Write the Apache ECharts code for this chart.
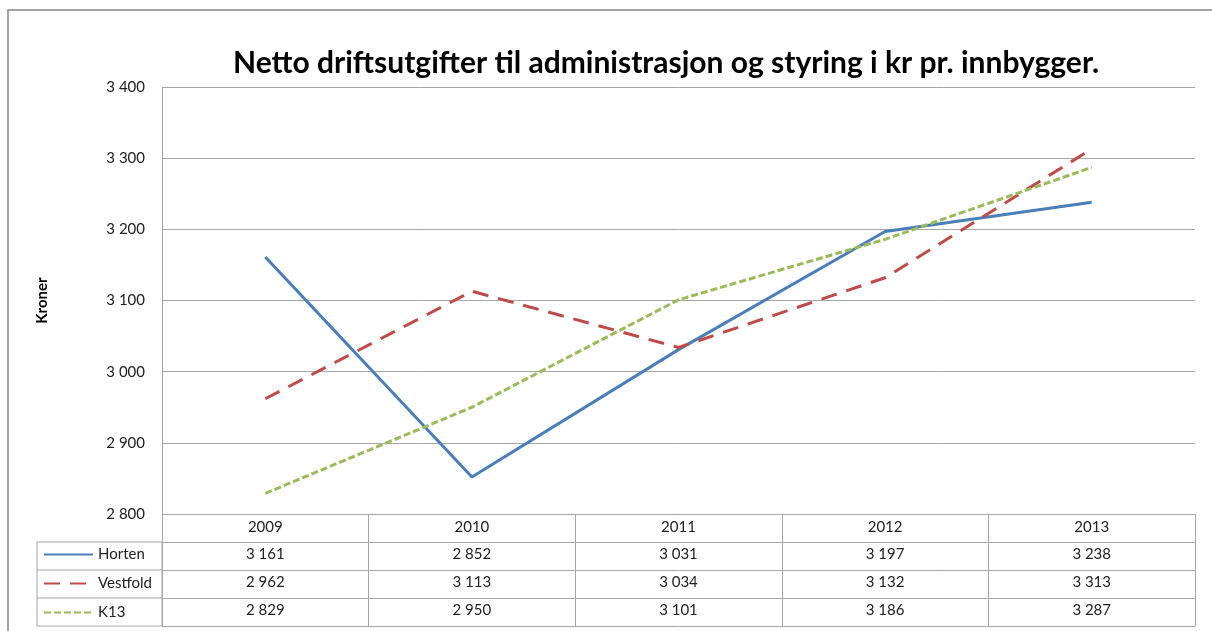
<!DOCTYPE html>
<html>
<head>
    <meta charset="utf-8"/>
    <title>Netto driftsutgifter</title>
    <script src="https://cdn.jsdelivr.net/npm/echarts@6.0.0/dist/echarts.min.js"></script>
    <style>
        body { margin: 0; background: #fff; }
    </style>
</head>
<body>
<div id="chart" style="width: 1212px;height:631px;"></div>
<script type="text/javascript">
    var years = ['2009', '2010', '2011', '2012', '2013'];
    var horten = [3161, 2852, 3031, 3197, 3238];
    var vestfold = [2962, 3113, 3034, 3132, 3313];
    var k13 = [2829, 2950, 3101, 3186, 3287];
    var yTicks = { min: 2800, max: 3400, step: 100 };

    var font = 'Lato, "Noto Sans", sans-serif';
    var gridColor = '#a6a6a6';

    // 3 161 style numbers
    function fmt(n) {
        return String(n).replace(/\B(?=(\d{3})+(?!\d))/g, ' ');
    }

    // one extra x axis per table row, label = the row's value
    function rowAxis(values, offset) {
        return {
            type: 'category',
            data: years,
            position: 'bottom',
            offset: offset,
            axisLine: { show: true, lineStyle: { color: gridColor, width: 1 } },
            axisTick: { show: false },
            axisLabel: {
                interval: 0, margin: 5, color: '#222', fontSize: 15, fontFamily: font,
                formatter: function (v, i) { return values == null ? '' : fmt(values[i]); }
            }
        };
    }

    var option = {
        animation: false,
        title: {
            text: 'Netto driftsutgifter til administrasjon og styring i kr pr. innbygger.',
            left: 661, top: 43, textAlign: 'center',
            textStyle: { fontSize: 30, fontWeight: 'bold', color: '#000', fontFamily: font }
        },
        legend: {
            orient: 'vertical', left: 43, top: 547, itemGap: 14, padding: 0,
            itemWidth: 49, itemHeight: 14,
            itemStyle: { opacity: 0 },
            textStyle: { fontSize: 15, color: '#222', fontFamily: font },
            data: ['Horten', 'Vestfold', 'K13']
        },
        grid: { left: 162, right: 17, top: 87, bottom: 117, containLabel: false },
        xAxis: [
            {
                type: 'category',
                data: years,
                boundaryGap: true,
                axisLine: { show: true, lineStyle: { color: gridColor } },
                axisTick: { show: true, interval: 0, length: 112, lineStyle: { color: gridColor } },
                axisLabel: { interval: 0, margin: 6, color: '#222', fontSize: 15, fontFamily: font }
            },
            rowAxis(horten, 28),
            rowAxis(vestfold, 56),
            rowAxis(k13, 84),
            rowAxis(null, 112)
        ],
        yAxis: {
            type: 'value',
            min: yTicks.min, max: yTicks.max, interval: yTicks.step,
            name: 'Kroner', nameLocation: 'middle', nameGap: 112,
            nameTextStyle: { fontSize: 15, fontWeight: 'bold', color: '#000', fontFamily: font },
            axisLine: { show: true, lineStyle: { color: gridColor } },
            axisTick: { show: false },
            axisLabel: { margin: 17, color: '#222', fontSize: 15, fontFamily: font, formatter: fmt },
            splitLine: { lineStyle: { color: gridColor } }
        },
        series: [
            {
                name: 'Horten', type: 'line', data: horten, symbol: 'none',
                color: '#4a7ebb',
                lineStyle: { width: 3, color: '#4a7ebb' }
            },
            {
                name: 'Vestfold', type: 'line', data: vestfold, symbol: 'none',
                color: '#be4b48',
                lineStyle: { width: 3, color: '#be4b48', type: [16, 10] }
            },
            {
                name: 'K13', type: 'line', data: k13, symbol: 'none',
                color: '#9bbb59',
                lineStyle: { width: 3, color: '#9bbb59', type: [7, 3] }
            }
        ],
        graphic: [
            // chart frame
            { type: 'rect', shape: { x: 8, y: 10, width: 1230, height: 650 }, silent: true,
              style: { fill: null, stroke: '#888', lineWidth: 1.5 } },
            // legend column of the data table
            { type: 'rect', shape: { x: 37, y: 542, width: 125, height: 84 }, silent: true,
              style: { fill: null, stroke: gridColor, lineWidth: 1 } },
            { type: 'line', shape: { x1: 37, y1: 570, x2: 162, y2: 570 }, silent: true,
              style: { stroke: gridColor, lineWidth: 1 } },
            { type: 'line', shape: { x1: 37, y1: 598, x2: 162, y2: 598 }, silent: true,
              style: { stroke: gridColor, lineWidth: 1 } }
        ]
    };

    var chart = echarts.init(document.getElementById('chart'));
    chart.setOption(option);
</script>
</body>
</html>
